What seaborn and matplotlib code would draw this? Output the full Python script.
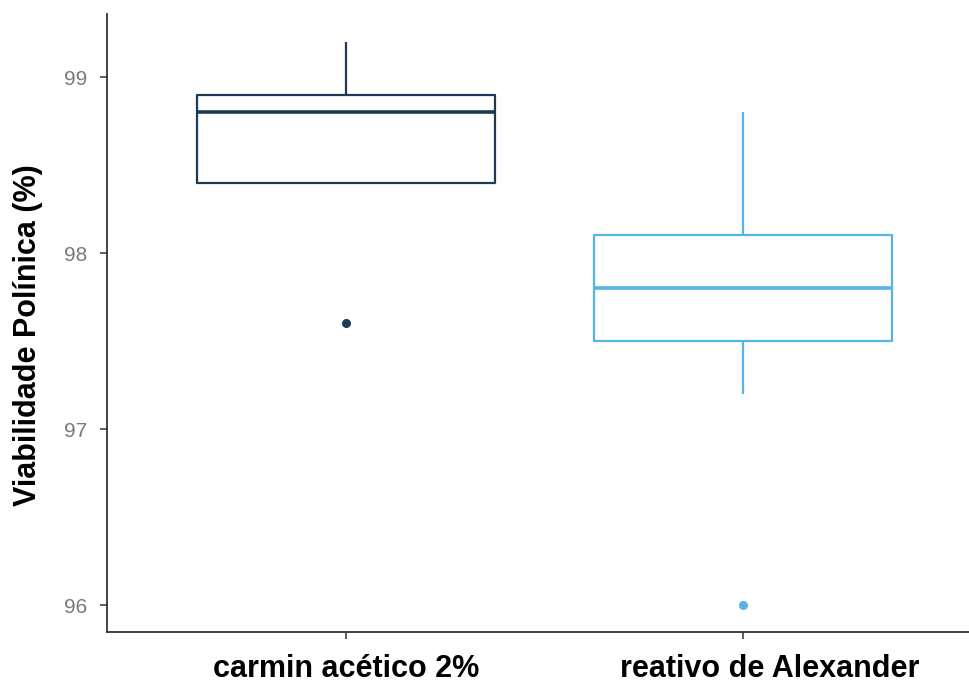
import numpy as np
import pandas as pd
import matplotlib
matplotlib.use("Agg")
import matplotlib.pyplot as plt
import matplotlib.transforms as mtransforms
import seaborn as sns

categories = ["carmin acético 2%", "reativo de Alexander"]
carmin_values = [97.6, 98.4, 98.4, 98.8, 98.8, 98.9, 98.9, 99.0, 99.2]
alexander_values = [96.0, 97.2, 97.5, 97.6, 97.8, 98.0, 98.1, 98.5, 98.8]
colors = ["#1E3A56", "#56B4E9"]
y_ticks = [96, 97, 98, 99]

df = pd.DataFrame({
    "metodo": [categories[0]] * len(carmin_values) + [categories[1]] * len(alexander_values),
    "viab": carmin_values + alexander_values,
})

sns.set_style("white")
plt.rcParams['font.family'] = ['Liberation Sans', 'DejaVu Sans']

fig = plt.figure(figsize=(9.69, 6.86), dpi=100)
ax = fig.add_axes([107/969, 1 - 632/686, 1 - 107/969, (632 - 14)/686])

sns.boxplot(data=df, x="metodo", y="viab", hue="metodo", order=categories,
            hue_order=categories, palette=colors, fill=False, width=0.75,
            showcaps=False, linewidth=1.6, legend=False, ax=ax,
            medianprops={"linewidth": 2.6},
            flierprops={"marker": "o", "markersize": 5.5})

for ln in ax.lines:
    if ln.get_marker() == "o":
        ln.set_markerfacecolor(ln.get_markeredgecolor())

ax.set_xlim(-0.602, 1.569)
ax.set_ylim(95.847, 99.358)
ax.set_yticks(y_ticks)
ax.set_yticklabels([str(t) for t in y_ticks])

for side in ["top", "right"]:
    ax.spines[side].set_visible(False)
for side in ["left", "bottom"]:
    ax.spines[side].set_color("#333333")
    ax.spines[side].set_linewidth(1.3)

ax.tick_params(axis="y", labelsize=15, labelcolor="#7a7a7a", color="#333333",
               length=5, width=1.1, left=True, pad=9)
ax.tick_params(axis="x", labelsize=22, labelcolor="black", color="#333333",
               length=5, width=1.1, bottom=True, pad=11)
xlabels = ax.get_xticklabels()
for lab in xlabels:
    lab.set_fontweight("bold")
# second category label sits slightly right of its tick in the reference
offset = mtransforms.ScaledTranslation(27/100, 0, fig.dpi_scale_trans)
for tick in ax.xaxis.get_major_ticks()[1:2]:
    tick.label1.set_transform(tick.label1.get_transform() + offset)

ax.set_xlabel("")
ax.set_ylabel("Viabilidade Polínica (%)", fontsize=22, fontweight="bold",
              color="black")
ax.yaxis.set_label_coords(-0.074, 0.48)

fig.savefig("out.png", dpi=100)
